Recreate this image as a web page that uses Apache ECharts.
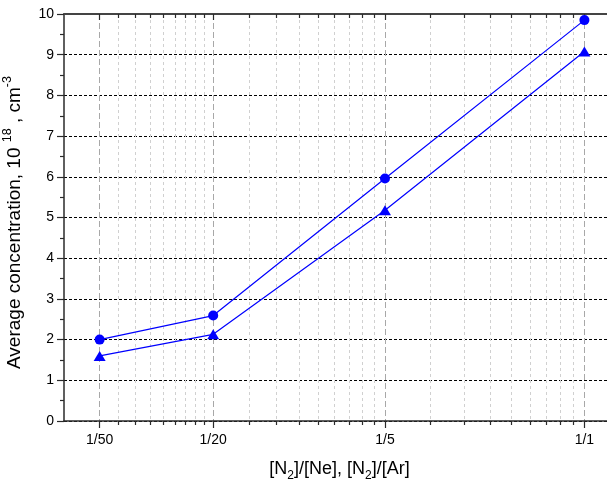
<!DOCTYPE html>
<html>
<head>
<meta charset="utf-8">
<script src="https://cdn.jsdelivr.net/npm/echarts@6/dist/echarts.min.js"></script>
<style>
html,body{margin:0;padding:0;background:#fff;}
#chart{width:607px;height:485px;}
</style>
</head>
<body>
<div id="chart"></div>
<script>
// ---- data ----
var xValues = [0.02, 0.05, 0.2, 1];
var xTickLabels = ['1/50', '1/20', '1/5', '1/1'];
var circleSeries = [2.0, 2.59, 5.96, 9.85];
var triangleSeries = [1.6, 2.13, 5.18, 9.08];
var yTicks = [0, 1, 2, 3, 4, 5, 6, 7, 8, 9, 10];

var xMin = 0.015, xMax = 1.2;
var minorPerInterval = 8;

// minor tick positions: linear subdivisions between major ticks
var minorValues = [];
for (var i = 0; i < xValues.length - 1; i++) {
  var a = xValues[i], b = xValues[i + 1];
  for (var k = 1; k <= minorPerInterval; k++) {
    minorValues.push(a + (b - a) * k / (minorPerInterval + 1));
  }
}

function labelFor(v) {
  for (var i = 0; i < xValues.length; i++) {
    if (Math.abs(v - xValues[i]) / xValues[i] < 1e-6) return xTickLabels[i];
  }
  return '';
}

var FONT = '"Liberation Sans", Arial, sans-serif';
var AXIS_COLOR = '#2a2a2a';

function baseX(extra) {
  var o = {
    type: 'log', logBase: 10, min: xMin, max: xMax,
    axisLine: { show: false },
    axisTick: { show: false },
    axisLabel: { show: false },
    splitLine: { show: false },
    minorTick: { show: false },
    minorSplitLine: { show: false }
  };
  for (var k in extra) o[k] = extra[k];
  return o;
}

var xAxes = [
  // main bottom: majors with labels and grey long-dash grid
  baseX({
    position: 'bottom',
    name: '[N{sub|2}]/[Ne], [N{sub|2}]/[Ar]',
    nameLocation: 'middle',
    nameGap: 35,
    nameTextStyle: {
      fontFamily: FONT, fontSize: 18, color: '#000', lineHeight: 26, padding: [0, 0, 0, 8],
      rich: { sub: { fontFamily: FONT, fontSize: 12, color: '#000', verticalAlign: 'bottom', lineHeight: 26 } }
    },
    axisLine: { show: true, onZero: false, lineStyle: { color: AXIS_COLOR, width: 1.5 } },
    axisTick: { show: true, inside: false, length: 7, customValues: xValues, lineStyle: { color: AXIS_COLOR, width: 1.2 } },
    axisLabel: { show: true, customValues: xValues, margin: 12, fontFamily: FONT, fontSize: 14, color: '#000',
      formatter: function (v) { return labelFor(v); } },
    splitLine: { show: true, customValues: xValues, lineStyle: { color: '#a8a8a8', type: [6, 3], width: 1 } }
  }),
  // bottom minors
  baseX({
    position: 'bottom',
    axisTick: { show: true, inside: false, length: 4, customValues: minorValues, lineStyle: { color: AXIS_COLOR, width: 1.2 } },
    splitLine: { show: true, customValues: minorValues, lineStyle: { color: '#d0d0d0', type: [3, 3], width: 1 } }
  }),
  // top line with major ticks inward
  baseX({
    position: 'top',
    axisLine: { show: true, onZero: false, lineStyle: { color: '#444', width: 2 } },
    axisTick: { show: true, inside: true, length: 6, customValues: xValues, lineStyle: { color: AXIS_COLOR, width: 1.2 } }
  }),
  // top minors inward
  baseX({
    position: 'top',
    axisTick: { show: true, inside: true, length: 4, customValues: minorValues, lineStyle: { color: AXIS_COLOR, width: 1.2 } }
  })
];

var option = {
  backgroundColor: '#fff',
  animation: false,
  grid: { left: 64, right: 0, top: 14, bottom: 64, containLabel: false, outerBoundsMode: 'none' },
  xAxis: xAxes,
  yAxis: {
    type: 'value', min: yTicks[0], max: yTicks[yTicks.length - 1], interval: 1,
    name: 'Average concentration, 10 {sup|18} , cm{sup|-3}',
    nameLocation: 'middle', nameRotate: 90, nameGap: 14,
    nameTextStyle: {
      fontFamily: FONT, fontSize: 19, color: '#000', lineHeight: 26, padding: [0, 10, 0, 0],
      rich: { sup: { fontFamily: FONT, fontSize: 12.5, color: '#000', verticalAlign: 'top', lineHeight: 26 } }
    },
    axisLine: { show: true, onZero: false, lineStyle: { color: AXIS_COLOR, width: 1.5 } },
    axisTick: { show: true, inside: false, length: 7, lineStyle: { color: AXIS_COLOR, width: 1.2 } },
    minorTick: { show: true, splitNumber: 2, length: 4, lineStyle: { color: AXIS_COLOR, width: 1.2 } },
    axisLabel: { margin: 10, fontFamily: FONT, fontSize: 14, color: '#000' },
    splitLine: { show: true, lineStyle: { color: '#000', type: [3, 2], width: 1 } }
  },
  series: [
    {
      name: 'circles', type: 'line', xAxisIndex: 0,
      data: xValues.map(function (x, i) { return [x, circleSeries[i]]; }),
      symbol: 'circle', symbolSize: 10,
      itemStyle: { color: '#0000ff' },
      lineStyle: { color: '#0000ff', width: 1.2 },
      z: 5
    },
    {
      name: 'triangles', type: 'line', xAxisIndex: 0,
      data: xValues.map(function (x, i) { return [x, triangleSeries[i]]; }),
      symbol: 'triangle', symbolSize: [12, 10],
      itemStyle: { color: '#0000ff' },
      lineStyle: { color: '#0000ff', width: 1.2 },
      z: 5
    }
  ]
};

var chart = echarts.init(document.getElementById('chart'), null, { renderer: 'canvas' });
chart.setOption(option);
</script>
</body>
</html>
